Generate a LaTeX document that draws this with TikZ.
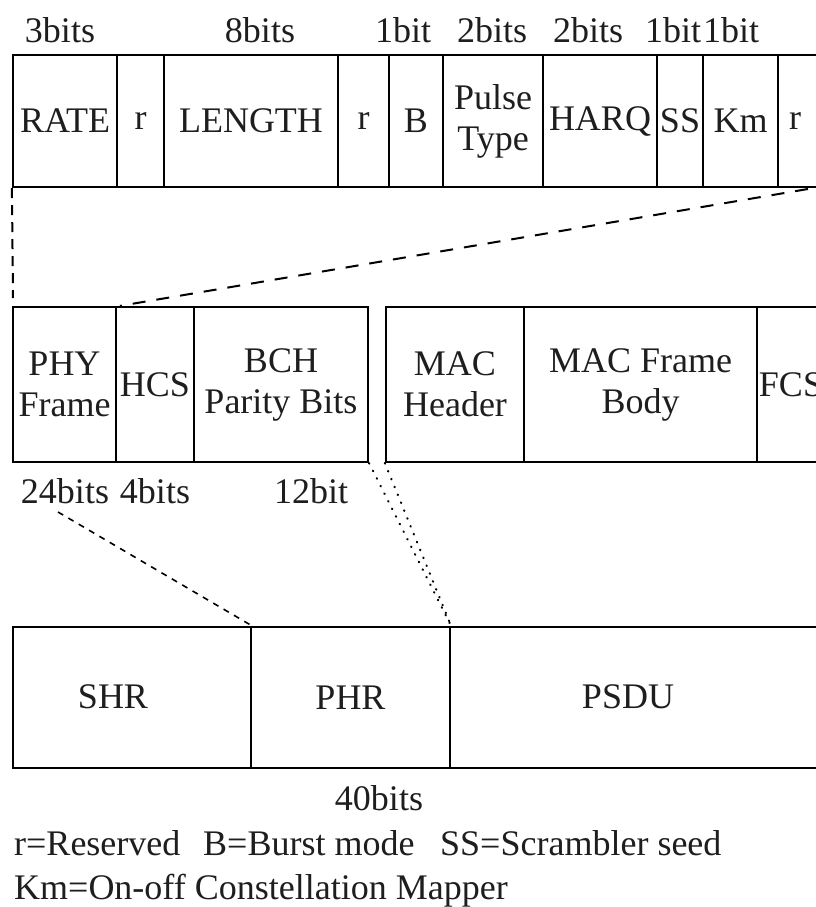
\documentclass[tikz,border=0pt]{standalone}
\usepackage{fontspec}
\setmainfont{Liberation Serif}
\definecolor{txt}{HTML}{1E1E1E}
\newcommand\boxfont{\fontsize{36}{41}\selectfont}
\newcommand\fieldbox[6]{\node[fld, minimum width={(#3-#2)*1pt}, minimum height={(#5-#4)*1pt}] (#1) at ({(#2+#3)/2},{(#4+#5)/2}) {#6};}
\tikzset{
  fld/.style={draw=black, line width=2.2pt, inner sep=0pt, align=center, font=\boxfont, text=txt},
  lab/.style={inner sep=0pt, font=\boxfont, text=txt},
  bitlab/.style={inner sep=0pt, anchor=base, font=\boxfont, text=txt},
  legend/.style={inner sep=0pt, anchor=base west, font=\boxfont, text=txt},
  longdash/.style={line width=2pt, dash pattern=on 13pt off 11pt},
  vdash/.style={line width=2pt, dash pattern=on 10pt off 7pt},
  finedash/.style={line width=1.6pt, dash pattern=on 6pt off 6pt},
  dots/.style={line width=2.2pt, line cap=round, dash pattern=on 0.5pt off 8pt},
}
\begin{document}
\begin{tikzpicture}[x=1pt,y=-1pt]
\clip (0,0) rectangle (816,907);
\fill[white] (0,0) rectangle (816,907);
% top row
\fieldbox{rate}{13}{117}{55}{187}{RATE}
\fieldbox{ra}{117}{164}{55}{187}{r}
\fieldbox{length}{164}{338}{55}{187}{LENGTH}
\fieldbox{rb}{338}{389}{55}{187}{r}
\fieldbox{bm}{389}{443}{55}{187}{B}
\fieldbox{pulse}{443}{543}{55}{187}{Pulse\\Type}
\fieldbox{harq}{543}{657}{55}{187}{HARQ}
\fieldbox{ss}{657}{703}{55}{187}{SS}
\fieldbox{km}{703}{778}{55}{187}{Km}
\fieldbox{rc}{778}{850}{55}{187}{}
\node[lab] (rclab) at (795,121) {r};
% bit labels top
\node[bitlab] (b3) at (60,43) {3bits};
\node[bitlab] (b8) at (260,43) {8bits};
\node[bitlab] (b1a) at (403,43) {1bit};
\node[bitlab] (b2a) at (492,43) {2bits};
\node[bitlab] (b2b) at (588,43) {2bits};
\node[bitlab] (b1b) at (673,43) {1bit};
\node[bitlab] (b1c) at (731,43) {1bit};
% middle row
\fieldbox{phy}{13}{116}{307}{462}{PHY\\Frame}
\fieldbox{hcs}{116}{194}{307}{462}{HCS}
\fieldbox{bch}{194}{368}{307}{462}{BCH\\Parity Bits}
\fieldbox{machdr}{386}{524}{307}{462}{MAC\\Header}
\fieldbox{macbody}{524}{757}{307}{462}{MAC Frame\\Body}
\fieldbox{fcs}{757}{825}{307}{462}{FCS}
\node[bitlab] (b24) at (65,503) {24bits};
\node[bitlab] (b4) at (155,503) {4bits};
\node[bitlab] (b12) at (311,503) {12bit};
% bottom row
\fieldbox{shr}{13}{251}{627}{768}{}
\fieldbox{phr}{251}{450}{627}{768}{PHR}
\fieldbox{psdu}{450}{850}{627}{768}{}
\node[lab] (shrlab) at (113,697) {SHR};
\node[lab] (psdulab) at (628,697) {PSDU};
\node[bitlab] (b40) at (379,810) {40bits};
% legend
\node[legend] (lg1) at (14,855) {r=Reserved};
\node[legend] (lg2) at (203,855) {B=Burst mode};
\node[legend] (lg3) at (440,855) {SS=Scrambler seed};
\node[legend] (lg4) at (14,899) {Km=On-off Constellation Mapper};
% connectors
\coordinate (vend) at (13,298);
\coordinate (rcb) at (808,189);
\coordinate (lstart) at (58,512);
\draw[vdash] (rate.south west) -- (vend);
\draw[longdash] (rcb) -- ([xshift=5pt]hcs.north west);
\draw[finedash] (lstart) -- (shr.north east);
\draw[dots] (bch.south east) -- (phr.north east);
\draw[dots] (machdr.south west) -- (phr.north east);
\end{tikzpicture}
\end{document}
